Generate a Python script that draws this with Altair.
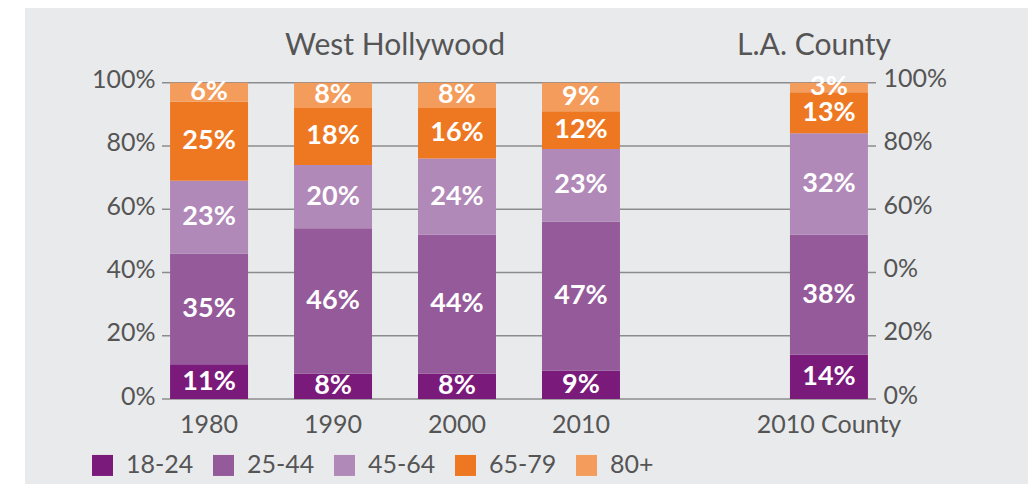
import altair as alt
import pandas as pd

# ---- data ----
groups = ["18-24", "25-44", "45-64", "65-79", "80+"]
colors = ["#7a1a7b", "#945a9a", "#b189b8", "#ee7822", "#f49c5b"]
years = ["1980", "1990", "2000", "2010", "2010 County"]
share_1980 = [11, 35, 23, 25, 6]
share_1990 = [8, 46, 20, 18, 8]
share_2000 = [8, 44, 24, 16, 8]
share_2010 = [9, 47, 23, 12, 9]
share_county = [14, 38, 32, 13, 3]
x_slots = ["1980", "1990", "2000", "2010", " ", "2010 County"]
y_ticks = [0, 20, 40, 60, 80, 100]
panel_titles = ["West Hollywood", "L.A. County"]

series = [share_1980, share_1990, share_2000, share_2010, share_county]
rows = []
for yr, vals in zip(years, series):
    for i, (g, v) in enumerate(zip(groups, vals)):
        rows.append({"year": yr, "group": g, "idx": i, "value": v})
df = pd.DataFrame(rows)
grid_df = pd.DataFrame({"t": y_ticks})

FONT = "Lato"
GREY = "#555555"
BG = "#e9eaec"

x_enc = alt.X(
    "year:N",
    scale=alt.Scale(domain=x_slots, paddingInner=0.371, paddingOuter=0.065),
    axis=alt.Axis(title=None, labelAngle=0, ticks=False, domain=False,
                  labelPadding=13, labelFontSize=25, labelFont=FONT,
                  labelColor=GREY, grid=False, zindex=1),
)
y_scale = alt.Scale(domain=[0, 100], nice=False)

# background panel
bg = alt.Chart(alt.Data(values=[{"a": 1}])).mark_rect(color=BG).encode(
    x=alt.value(-137), x2=alt.value(866), y=alt.value(-74.7), y2=alt.value(401.3)
)

grid = alt.Chart(grid_df).mark_rule(color="#8c8c8c", strokeWidth=1.5).encode(
    y=alt.Y("t:Q", scale=y_scale, axis=None)
)

base = alt.Chart(df).transform_stack(
    stack="value", groupby=["year"], as_=["v0", "v1"],
    sort=[alt.SortField("idx", order="ascending")],
).transform_calculate(
    mid="(datum.v0 + datum.v1) / 2", label="datum.value + '%'"
)

bars = base.mark_bar().encode(
    x=x_enc,
    y=alt.Y("v0:Q", scale=y_scale,
            axis=alt.Axis(title=None, values=y_ticks, orient="left",
                          labelExpr="datum.value + '%'", ticks=False,
                          domain=False, grid=False, labelPadding=7,
                          labelOffset=-3,
                          labelFontSize=25, labelFont=FONT, labelColor=GREY,
                          zindex=1)),
    y2="v1:Q",
    color=alt.Color(
        "group:N",
        scale=alt.Scale(domain=groups, range=colors),
        legend=alt.Legend(title=None, orient="none", legendX=-72, legendY=370,
                          direction="horizontal", columns=5, symbolType="square",
                          symbolSize=441, symbolStrokeWidth=0, symbolOpacity=1,
                          labelFontSize=25, labelFont=FONT, labelColor=GREY,
                          labelOffset=11, columnPadding=17, zindex=1),
    ),
)

labels = base.mark_text(color="white", fontWeight="bold", fontSize=27,
                        font=FONT, baseline="middle").encode(
    x=x_enc,
    y=alt.Y("mid:Q", scale=y_scale,
            axis=alt.Axis(title=None, values=y_ticks, orient="right",
                          labelExpr="datum.value == 40 ? '0%' : datum.value + '%'",
                          ticks=False, domain=False, grid=False, labelPadding=7,
                          labelOffset=-4,
                          labelFontSize=25, labelFont=FONT, labelColor=GREY,
                          zindex=1)),
    text="label:N",
)

t1 = alt.Chart(alt.Data(values=[{"a": 1}])).mark_text(
    fontSize=30, font=FONT, color=GREY, align="center", baseline="alphabetic"
).encode(x=alt.value(233), y=alt.value(-27.7), text=alt.value(panel_titles[0]))
t2 = alt.Chart(alt.Data(values=[{"a": 1}])).mark_text(
    fontSize=30, font=FONT, color=GREY, align="center", baseline="alphabetic"
).encode(x=alt.value(652), y=alt.value(-27.7), text=alt.value(panel_titles[1]))

chart = alt.layer(bg, grid, bars, labels, t1, t2).resolve_scale(
    y="shared", x="shared"
).resolve_axis(y="independent").properties(
    width=714, height=316.3,
    autosize=alt.AutoSizeParams(type="none"),
    padding={"left": 154, "top": 74.7, "right": 152, "bottom": 85},
    background="white",
).configure_view(stroke=None)

chart.save("out.html", embed_options={"renderer": "svg", "actions": False})
